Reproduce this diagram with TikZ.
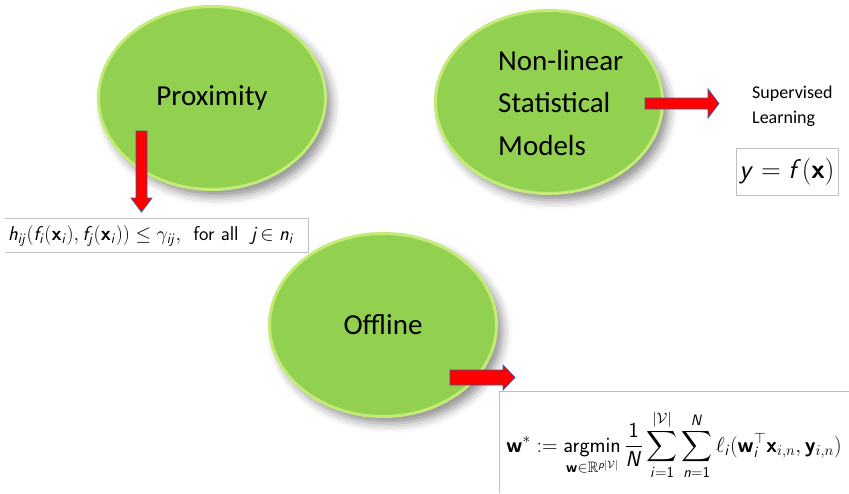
\RequirePackage{fix-cm}
\documentclass[tikz,border=0pt]{standalone}
\usepackage{amsmath,amssymb}
\usepackage[no-math]{fontspec}
\newfontfamily\calib{Carlito}
\usetikzlibrary{shapes.geometric,shadows.blur}

% sans serif letters for the formulas
\DeclareMathAlphabet{\mathsfit}{OT1}{cmss}{m}{sl}
\DeclareMathAlphabet{\mathsfbf}{OT1}{cmss}{bx}{n}
\DeclareMathAlphabet{\mathsfup}{OT1}{cmss}{m}{n}

\definecolor{leaf}{HTML}{92D050}
\definecolor{leafrim}{HTML}{C4EA78}
\definecolor{arrowred}{HTML}{FF0000}
\definecolor{arrowedge}{HTML}{3F5890}
\definecolor{rule}{HTML}{BFBFBF}

\tikzset{
  bubble/.style={ellipse, fill=leaf, draw=leafrim, line width=3pt,
    minimum width=227pt, minimum height=183pt, inner sep=0pt,
    blur shadow={shadow xshift=6pt, shadow yshift=-7pt,
      shadow blur radius=9pt, shadow opacity=45},
    font=\calib\fontsize{29}{36}\selectfont},
  bubbletext/.style={align=left, inner sep=0pt,
    font=\calib\fontsize{29}{42.5}\selectfont},
  blockarrow/.style={fill=arrowred, draw=arrowedge, line width=0.7pt,
    line join=miter},
  formulanode/.style={inner sep=0pt, font=\sffamily\fontsize{20}{24}\selectfont},
  boxline/.style={draw=rule, line width=0.8pt},
  textnode/.style={inner sep=0pt, align=left,
    font=\calib\fontsize{18}{25}\selectfont},
}

\begin{document}
\begin{tikzpicture}[x=1pt, y=-1pt]
  \useasboundingbox (0,0) rectangle (849,493);

  % the three topic bubbles
  \node[bubble] (prox) at (212,98) {Proximity};
  \node[bubble] (nonlin) at (549,102) {};
  \node[bubbletext, anchor=west] (nonlintext) at (498,103)
    {Non-linear\\Statistical\\Models};
  \node[bubble] (offline) at (383,325) {Offline};

  % proximity constraint
  \node[formulanode, anchor=west] (proxf) at (8,236)
    {$\mathsfit{h}_{\mathsfit{ij}}(\mathsfit{f}_{\mathsfit{i}}(\mathsfbf{x}_{\mathsfit{i}}), \mathsfit{f}_{\mathsfit{j}}(\mathsfbf{x}_{\mathsfit{i}})) \leq \gamma_{\mathsfit{ij}},$\ \ for all\ \ $\mathsfit{j}\!\in \mathsfit{n}_{\mathsfit{i}}$};
  \coordinate (pfnw) at (5,218);
  \coordinate (pfne) at (308,218);
  \coordinate (pfse) at (308,252);
  \coordinate (pfsw) at (5,252);
  \draw[boxline] (pfnw) -- (pfne) -- (pfse) -- (pfsw);

  % supervised learning
  \node[textnode, anchor=north west] (sup) at (752,86) {Supervised\\Learning};
  \node[draw=rule, line width=0.8pt, minimum width=102pt, minimum height=47pt,
    inner sep=0pt, font=\sffamily\fontsize{27}{32}\selectfont] (yfx) at (787,171.5)
    {$\mathsfit{y} = \mathsfit{f}(\mathsfbf{x})$};

  % offline objective
  \coordinate (obl) at (499,493);
  \coordinate (obtl) at (499,391);
  \coordinate (obtr) at (849,391);
  \draw[boxline] (obl) -- (obtl) -- (obtr);
  \node[formulanode, font=\sffamily\fontsize{21.5}{26}\selectfont] (objf) at (674,445)
    {$\displaystyle \mathsfbf{w}^* := \operatorname*{\mathsfup{argmin}}_{\mathsfbf{w}\in\mathbb{R}^{\mathsfit{p}|\mathcal{V}|}} \frac{\mathsfup{1}}{\mathsfit{N}}\sum_{\mathsfit{i}=\mathsfup{1}}^{|\mathcal{V}|}\sum_{\mathsfit{n}=\mathsfup{1}}^{\mathsfit{N}}\ell_{\mathsfit{i}}(\mathsfbf{w}_{\mathsfit{i}}^{\top}\mathsfbf{x}_{i,n},\mathsfbf{y}_{i,n})$};

  % block arrows
  \draw[blockarrow] (136,131) -- (147,131) -- (147,198) -- (152,198)
    -- (141.5,212) -- (131,198) -- (136,198) -- cycle;
  \draw[blockarrow] (645,98) -- (708,98) -- (708,89) -- (719,103.5)
    -- (708,118) -- (708,109) -- (645,109) -- cycle;
  \draw[blockarrow] (450,370) -- (503,370) -- (503,365) -- (515,377.5)
    -- (503,390) -- (503,385) -- (450,385) -- cycle;
\end{tikzpicture}
\end{document}
